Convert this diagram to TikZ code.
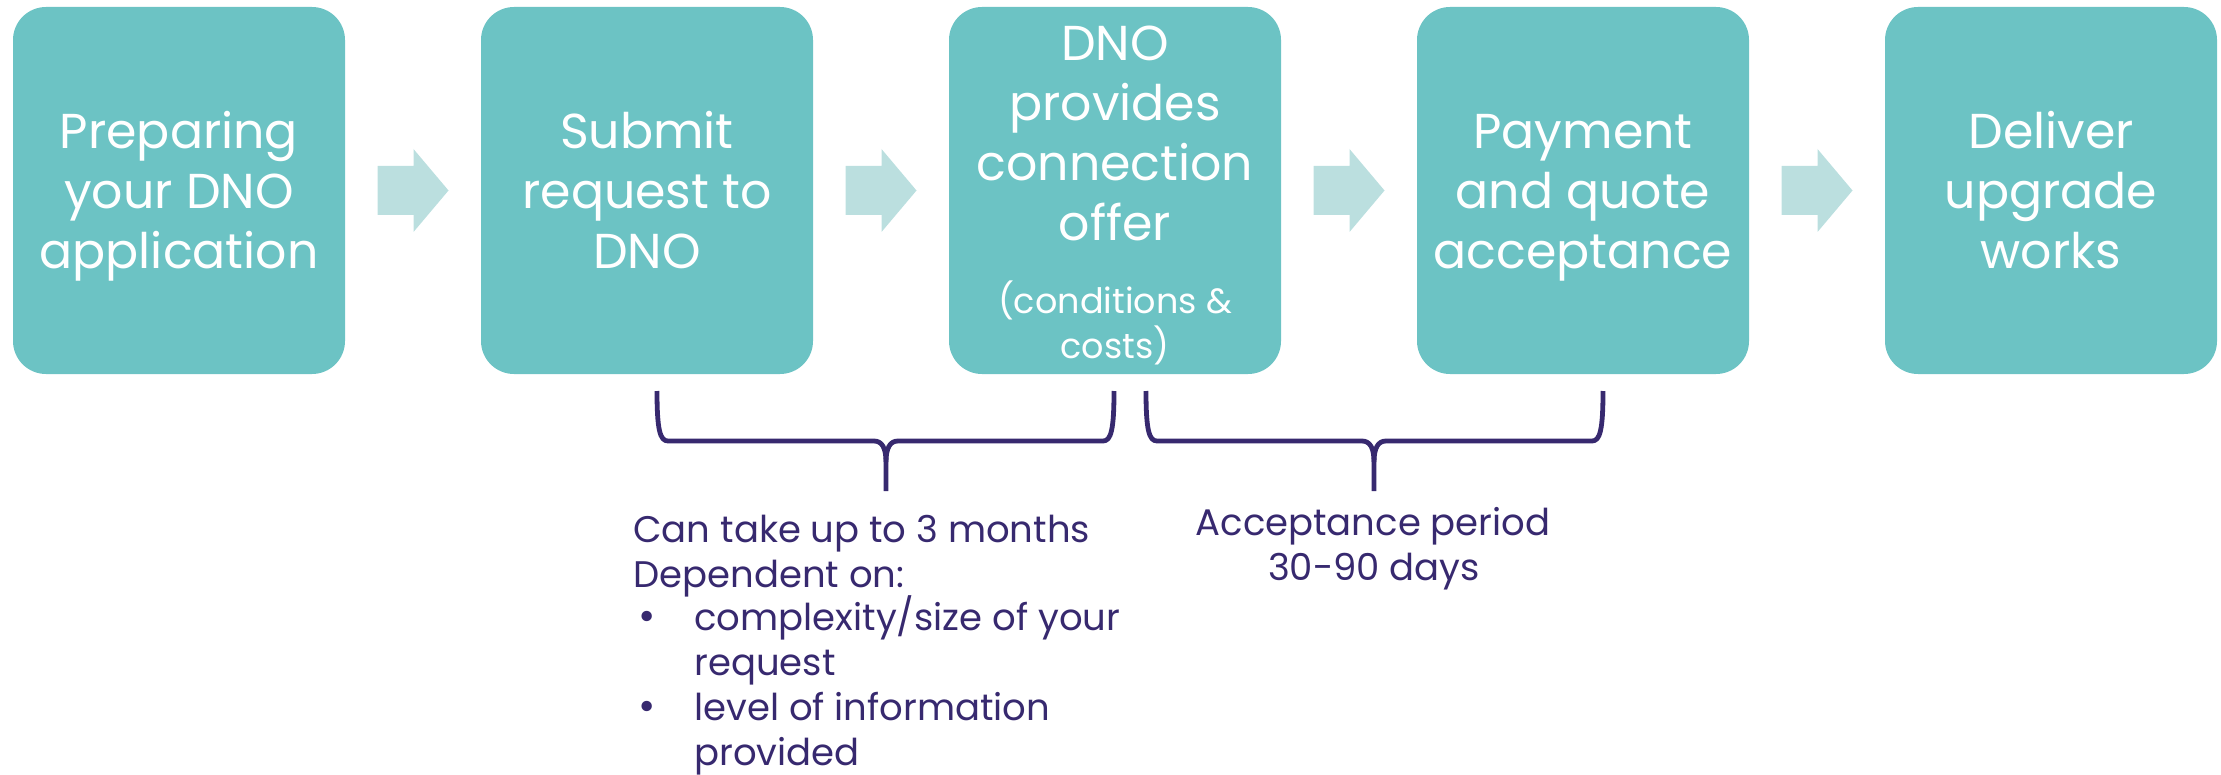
\documentclass[tikz,border=0pt]{standalone}
\usepackage{fontspec}
\setmainfont{Poppins}
\definecolor{boxteal}{HTML}{6CC3C4}
\definecolor{arrowteal}{HTML}{BBDFDF}
\definecolor{navy}{HTML}{37296F}
\begin{document}
\begin{tikzpicture}[x=0.5pt,y=-0.5pt,
  stepbox/.style={fill=boxteal, draw=none, rounded corners=16.5pt, minimum width=166pt, minimum height=183.5pt, inner sep=0pt},
  boxtext/.style={text=white, align=center, inner sep=0pt, font=\fontsize{24.5}{30}\selectfont},
  smalltext/.style={text=white, align=center, inner sep=0pt, font=\fontsize{17.5}{22.5}\selectfont},
  lowtext/.style={text=navy, inner sep=0pt, font=\fontsize{18.5}{22.5}\selectfont},
  bracestyle/.style={draw=navy, line width=2.4pt, line join=round, line cap=butt}]
\useasboundingbox (0,0) rectangle (2221,775);
% boxes
\node[stepbox] (b1) at (179,190.5) {};
\node[stepbox] (b2) at (647,190.5) {};
\node[stepbox] (b3) at (1115,190.5) {};
\node[stepbox] (b4) at (1583,190.5) {};
\node[stepbox] (b5) at (2051,190.5) {};
% box texts
\node[boxtext] (t1) at (179,196) {Preparing\\your DNO\\application};
\node[boxtext] (t2) at (647,190.5) {Submit\\request to\\DNO};
\node[boxtext] (t3) at (1115,133) {DNO\\provides\\connection\\offer};
\node[smalltext] (t3s) at (1115,323) {(conditions \&\\costs)};
\node[boxtext] (t4) at (1583,197.5) {Payment\\and quote\\acceptance};
\node[boxtext] (t5) at (2051,190.5) {Deliver\\upgrade\\works};
% arrows
\foreach \i/\j in {1/2,2/3,3/4,4/5}{
  \path (b\i.east) -- (b\j.west) coordinate[midway] (g\i);
  \fill[arrowteal] ([shift={(-35.5,-24.5)}]g\i) -- ++(36,0) -- ++(0,-17) -- ++(35,41.5) -- ++(-35,41.5) -- ++(0,-17) -- ++(-36,0) -- cycle;
}
% braces
\draw[bracestyle] (657,391) .. controls (657,430) and (660,441) .. (668,441) -- (874,441)
  .. controls (882,441) and (886,448) .. (886,462) -- (886,491);
\draw[bracestyle] (1114,391) .. controls (1114,430) and (1111,441) .. (1103,441) -- (898,441)
  .. controls (890,441) and (886,448) .. (886,462);
\draw[bracestyle] (1146,391) .. controls (1146,430) and (1149,441) .. (1157,441) -- (1362,441)
  .. controls (1370,441) and (1374,448) .. (1374,462) -- (1374,491);
\draw[bracestyle] (1603,391) .. controls (1603,430) and (1600,441) .. (1592,441) -- (1386,441)
  .. controls (1378,441) and (1374,448) .. (1374,462);
% lower texts
\node[lowtext, anchor=base west] (l1) at (633,542) {Can take up to 3 months};
\node[lowtext, anchor=base west] (l2) at (633,587) {Dependent on:};
\node[lowtext, anchor=base west] (u1) at (638,630) {\fontsize{21}{22.5}\selectfont •};
\node[lowtext, anchor=base west] (l3) at (694,630) {complexity/size of your};
\node[lowtext, anchor=base west] (l4) at (694,675) {request};
\node[lowtext, anchor=base west] (u2) at (638,720) {\fontsize{21}{22.5}\selectfont •};
\node[lowtext, anchor=base west] (l5) at (694,720) {level of information};
\node[lowtext, anchor=base west] (l6) at (694,765) {provided};
\node[lowtext, anchor=base] (r1) at (1373,535) {Acceptance period};
\node[lowtext, anchor=base] (r2) at (1374,580) {30-90 days};
\end{tikzpicture}
\end{document}
